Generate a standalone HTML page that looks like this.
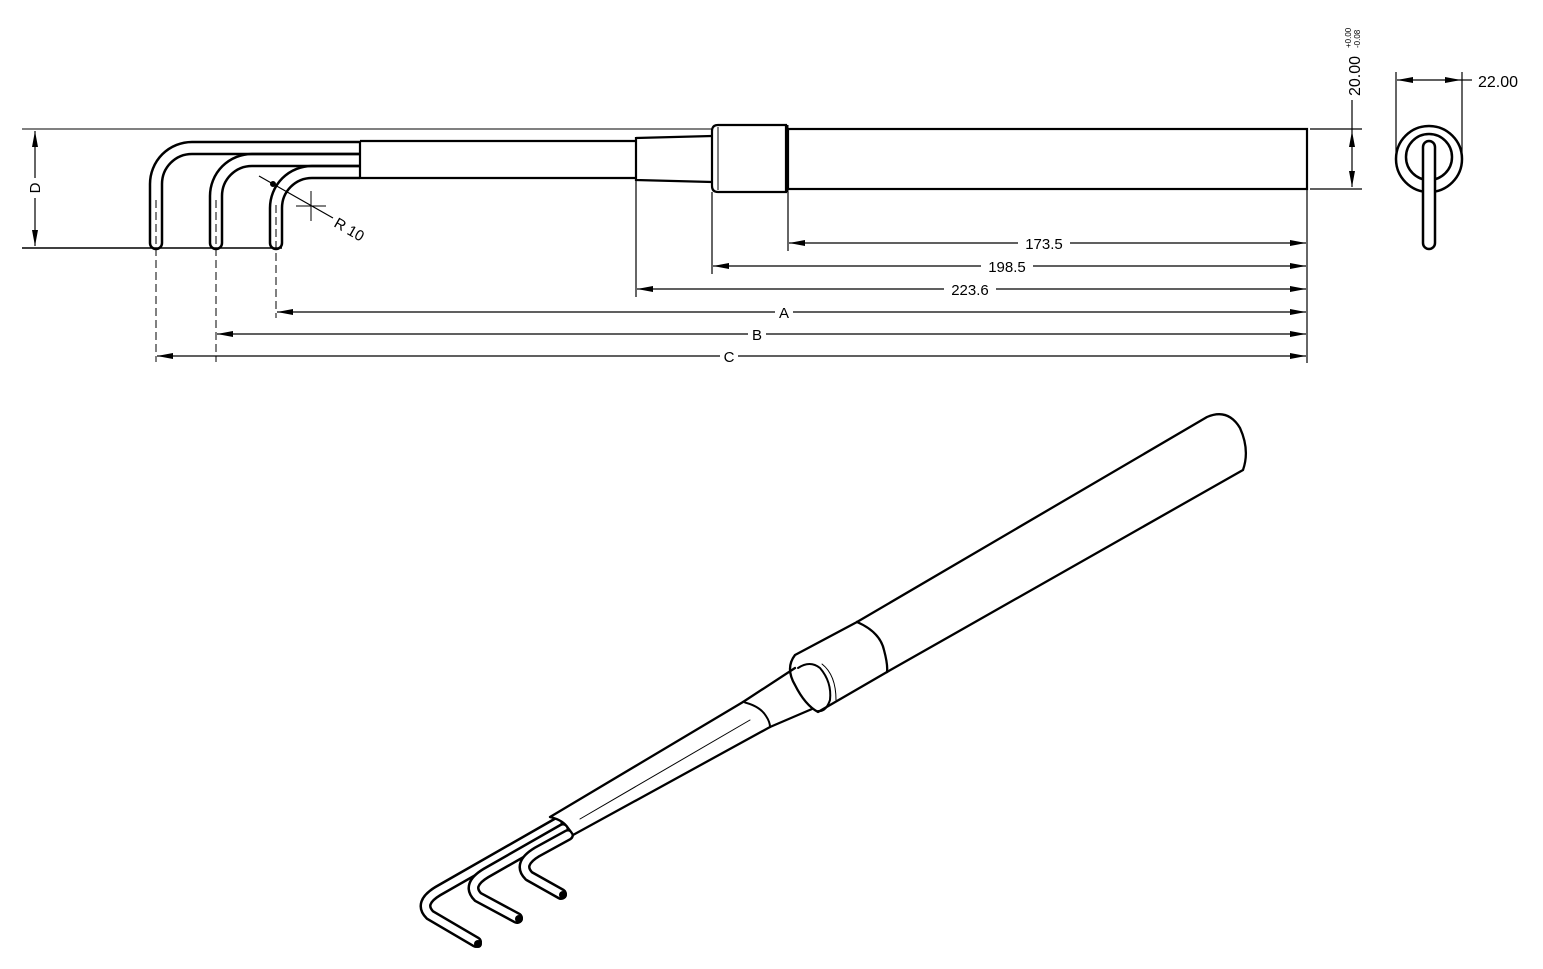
<!DOCTYPE html>
<html><head><meta charset="utf-8"><style>
html,body{margin:0;padding:0;background:#fff;}
svg{display:block;}
text{font-family:"Liberation Sans",Arial,sans-serif;fill:#000;}
</style></head><body>
<svg width="1543" height="969" viewBox="0 0 1543 969" xmlns="http://www.w3.org/2000/svg">
<defs>
<marker id="ae" viewBox="0 0 16 6" refX="16" refY="3" markerWidth="16" markerHeight="6" markerUnits="userSpaceOnUse" orient="auto"><path d="M0,0 L16,3 L0,6 z" fill="#000"/></marker>
<marker id="as" viewBox="0 0 16 6" refX="0" refY="3" markerWidth="16" markerHeight="6" markerUnits="userSpaceOnUse" orient="auto"><path d="M16,0 L0,3 L16,6 z" fill="#000"/></marker>
</defs>
<g fill="none" stroke="#000">
<line x1="22" y1="129" x2="712" y2="129" stroke-width="1"/>
<line x1="22" y1="248" x2="282" y2="248" stroke-width="1.5"/>
<line x1="35" y1="131" x2="35" y2="246" stroke-width="1.2" marker-start="url(#as)" marker-end="url(#ae)"/>
<rect x="788" y="129" width="519" height="60" stroke-width="2.2"/>
<path d="M718,125 H786 V192 H718 Q712,192 712,186 V131 Q712,125 718,125 Z" stroke-width="2.2"/>
<line x1="718" y1="127" x2="718" y2="190" stroke-width="1"/>
<line x1="787" y1="125" x2="787" y2="192" stroke-width="3"/>
<path d="M636,138 L712,136 M636,180 L712,182 M636,137 V181" stroke-width="2.2"/>
<path d="M360,141 H636 M360,178 H636 M360,141 V178" stroke-width="2.2"/>
<g stroke-width="2.5">
<path d="M360,142 H192 A42,42 0 0 0 150,184 V243 A6,6 0 0 0 162,243 V184 A30,30 0 0 1 192,154 H360"/>
<path d="M360,154 H252 A42,42 0 0 0 210,196 V243 A6,6 0 0 0 222,243 V196 A30,30 0 0 1 252,166 H360"/>
<path d="M360,166 H312 A42,42 0 0 0 270,208 V243 A6,6 0 0 0 282,243 V208 A30,30 0 0 1 312,178 H360"/>
</g>
<g stroke-width="1" stroke-dasharray="8,4">
<line x1="156" y1="200" x2="156" y2="362"/>
<line x1="216" y1="200" x2="216" y2="362"/>
<line x1="276" y1="205" x2="276" y2="318"/>
</g>
<line x1="259" y1="176" x2="333" y2="218" stroke-width="1.2"/>
<circle cx="273" cy="184" r="2.5" fill="#000"/>
<line x1="296" y1="206" x2="326" y2="206" stroke-width="1"/>
<line x1="311" y1="191" x2="311" y2="221" stroke-width="1"/>
<g stroke-width="1.2">
<line x1="1307" y1="189" x2="1307" y2="363"/>
<line x1="788" y1="192" x2="788" y2="251"/>
<line x1="712" y1="192" x2="712" y2="274"/>
<line x1="636" y1="181" x2="636" y2="297"/>
<line x1="1310" y1="129" x2="1362" y2="129"/>
<line x1="1310" y1="189" x2="1362" y2="189"/>
</g>
<g stroke-width="1.2">
<line x1="789" y1="243" x2="1306" y2="243" marker-start="url(#as)" marker-end="url(#ae)"/>
<line x1="713" y1="266" x2="1306" y2="266" marker-start="url(#as)" marker-end="url(#ae)"/>
<line x1="637" y1="289" x2="1306" y2="289" marker-start="url(#as)" marker-end="url(#ae)"/>
<line x1="277" y1="312" x2="1306" y2="312" marker-start="url(#as)" marker-end="url(#ae)"/>
<line x1="217" y1="334" x2="1306" y2="334" marker-start="url(#as)" marker-end="url(#ae)"/>
<line x1="157" y1="356" x2="1306" y2="356" marker-start="url(#as)" marker-end="url(#ae)"/>
<line x1="1352" y1="100" x2="1352" y2="131" />
<line x1="1352" y1="131" x2="1352" y2="187" marker-start="url(#as)" marker-end="url(#ae)"/>
</g>
<circle cx="1429" cy="159" r="33" stroke-width="2.5"/>
<circle cx="1429" cy="157" r="23" stroke-width="2.5"/>
<rect x="1423" y="141" width="12" height="108" rx="6" stroke-width="2.5" fill="#fff"/>
<line x1="1396" y1="72" x2="1396" y2="152" stroke-width="1.2"/>
<line x1="1462" y1="72" x2="1462" y2="152" stroke-width="1.2"/>
<line x1="1397" y1="80" x2="1461" y2="80" stroke-width="1.2" marker-start="url(#as)" marker-end="url(#ae)"/>
<line x1="1461" y1="80" x2="1472" y2="80" stroke-width="1.2"/>
</g>
<g font-size="15">
<rect x="1018" y="234" width="52" height="18" fill="#fff"/><text x="1044" y="249" text-anchor="middle">173.5</text>
<rect x="981" y="257" width="52" height="18" fill="#fff"/><text x="1007" y="272" text-anchor="middle">198.5</text>
<rect x="944" y="280" width="52" height="18" fill="#fff"/><text x="970" y="295" text-anchor="middle">223.6</text>
<rect x="775" y="303" width="18" height="18" fill="#fff"/><text x="784" y="318" text-anchor="middle">A</text>
<rect x="748" y="325" width="18" height="18" fill="#fff"/><text x="757" y="340" text-anchor="middle">B</text>
<rect x="720" y="347" width="18" height="18" fill="#fff"/><text x="729" y="362" text-anchor="middle">C</text>
<rect x="27" y="178" width="16" height="20" fill="#fff"/><text x="0" y="0" text-anchor="middle" transform="translate(40,188) rotate(-90)">D</text>
<text x="0" y="0" transform="translate(333,226) rotate(30)">R 10</text>
<text x="0" y="0" transform="translate(1360,96) rotate(-90)" font-size="16">20.00</text>
<text x="0" y="0" transform="translate(1351,48) rotate(-90)" font-size="8">+0.00</text>
<text x="0" y="0" transform="translate(1360,48) rotate(-90)" font-size="8">-0.08</text>
<text x="1478" y="87" font-size="16">22.00</text>
</g>
<!-- isometric wires first -->
<g fill="none" stroke-linecap="round" stroke-linejoin="round">
<path d="M557,823 L438,891 Q418,903 430,915 L476,942" stroke="#000" stroke-width="12"/>
<path d="M557,823 L438,891 Q418,903 430,915 L476,942" stroke="#fff" stroke-width="7"/>
<path d="M563,829 L486,873 Q466,885 478,897 L517,918" stroke="#000" stroke-width="12"/>
<path d="M563,829 L486,873 Q466,885 478,897 L517,918" stroke="#fff" stroke-width="7"/>
<path d="M568,835 L537,852 Q517,864 529,876 L561,894" stroke="#000" stroke-width="12"/>
<path d="M568,835 L537,852 Q517,864 529,876 L561,894" stroke="#fff" stroke-width="7"/>
</g>
<circle cx="478" cy="944" r="4" fill="#000"/>
<circle cx="519" cy="919" r="4" fill="#000"/>
<circle cx="563" cy="895" r="4" fill="#000"/>
<g fill="none" stroke="#000" stroke-linecap="round" stroke-linejoin="round">
<path d="M857,622 L1207,417 Q1228,408 1240,428 Q1250,450 1243,470 L887,672" stroke-width="2.3"/>
<path d="M857,622 Q880,632 884,650 Q888,665 887,672" stroke-width="2.3"/>
<path d="M857,622 L795,655 Q785,668 795,685 Q805,705 818,712 L887,672" stroke-width="2.3"/>
<path d="M798,668 Q810,660 820,668 Q832,682 830,700 Q826,712 818,711" stroke-width="2"/>
<path d="M822,664 Q836,675 836,700" stroke-width="1"/>
<path d="M795,668 L743,702 M812,709 L770,727" stroke-width="2.3"/>
<path d="M743,702 Q760,706 766,716 Q770,722 770,727" stroke-width="2"/>
<path d="M743,702 L550,817 Q563,820 568,828 Q572,833 573,835 L770,727" fill="#fff" stroke-width="2.3"/>
<path d="M750,720 L580,819" stroke-width="1"/>
</g>
</svg>
</body></html>
